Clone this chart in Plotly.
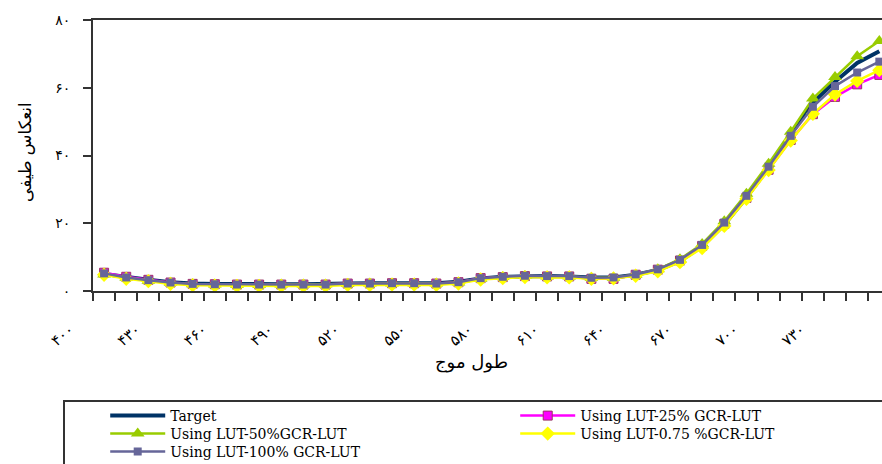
import plotly.graph_objects as go

# Wavelength samples (nm)
wavelengths = list(range(400, 760, 10))

# Spectral reflectance (%) of the target and of the four LUT-based reproductions
target = [5.0, 4.1, 3.3, 2.6, 2.2, 2.1, 2.0, 2.0, 2.0, 2.0, 2.0, 2.2, 2.3, 2.3, 2.3, 2.3,
          2.7, 3.7, 4.2, 4.4, 4.4, 4.3, 4.0, 4.0, 4.8, 6.2, 8.9, 13.2, 19.6, 27.6,
          36.5, 46.2, 55.6, 61.8, 67.3, 70.8]
gcr_25 = [5.4, 4.2, 3.3, 2.5, 2.1, 2.0, 1.9, 1.9, 1.9, 1.9, 1.9, 2.2, 2.2, 2.3, 2.3, 2.2,
          2.6, 3.8, 4.1, 4.4, 4.3, 4.3, 3.6, 3.6, 4.8, 6.3, 9.0, 13.3, 19.8, 27.5,
          35.8, 44.6, 52.2, 57.3, 61.0, 63.8]
gcr_50 = [4.9, 3.9, 3.0, 2.4, 2.0, 1.9, 1.8, 1.8, 1.9, 1.9, 1.9, 2.1, 2.2, 2.2, 2.2, 2.2,
          2.5, 3.6, 4.1, 4.4, 4.3, 4.3, 3.9, 3.9, 4.8, 6.4, 9.4, 13.9, 20.6, 28.7,
          37.6, 47.0, 56.8, 63.2, 69.3, 73.8]
gcr_075 = [4.8, 3.6, 2.9, 2.1, 1.7, 1.6, 1.5, 1.5, 1.5, 1.5, 1.5, 1.8, 1.8, 1.9, 1.9, 1.8,
           2.2, 3.4, 3.8, 4.1, 4.0, 4.0, 3.6, 3.7, 4.5, 5.8, 8.5, 12.7, 19.2, 27.2,
           35.7, 44.4, 52.3, 58.0, 62.0, 65.2]
gcr_100 = [5.2, 4.0, 3.2, 2.5, 2.1, 2.0, 1.9, 1.9, 1.9, 1.9, 1.9, 2.2, 2.2, 2.3, 2.3, 2.2,
           2.6, 3.8, 4.2, 4.5, 4.4, 4.4, 3.9, 4.0, 4.9, 6.4, 9.2, 13.6, 20.2, 28.1,
           36.7, 45.8, 54.4, 60.5, 64.5, 67.7]

series_names = ["Target", "Using LUT-25% GCR-LUT", "Using LUT-50%GCR-LUT",
                "Using LUT-0.75 %GCR-LUT", "Using LUT-100% GCR-LUT"]

# Persian tick labels
x_tick_vals = [400, 430, 460, 490, 520, 550, 580, 610, 640, 670, 700, 730]
x_tick_text = ["۴۰۰", "۴۳۰", "۴۶۰", "۴۹۰", "۵۲۰", "۵۵۰", "۵۸۰", "۶۱۰", "۶۴۰", "۶۷۰", "۷۰۰", "۷۳۰"]
y_tick_vals = [0, 20, 40, 60, 80]
y_tick_text = ["۰", "۲۰", "۴۰", "۶۰", "۸۰"]

x_title = "طول موج"
y_title = "انعکاس طیفی"

AXIS = "#333333"
FA_FONT = "DejaVu Sans"
LEG_FONT = dict(family="DejaVu Serif", size=14, color="black")

fig = go.Figure()

fig.add_trace(go.Scatter(
    x=wavelengths, y=target, name=series_names[0], mode="lines",
    line=dict(color="#003366", width=4), legend="legend"))
fig.add_trace(go.Scatter(
    x=wavelengths, y=gcr_25, name=series_names[1], mode="lines+markers",
    line=dict(color="#FF00FF", width=2.5),
    marker=dict(symbol="square", size=9, color="#FF00FF",
                line=dict(color="#993366", width=1)),
    legend="legend"))
fig.add_trace(go.Scatter(
    x=wavelengths, y=gcr_50, name=series_names[2], mode="lines+markers",
    line=dict(color="#99CC00", width=2.5),
    marker=dict(symbol="triangle-up", size=12, color="#99CC00"),
    legend="legend2"))
fig.add_trace(go.Scatter(
    x=wavelengths, y=gcr_075, name=series_names[3], mode="lines+markers",
    line=dict(color="#FFFF00", width=2.5),
    marker=dict(symbol="diamond", size=11, color="#FFFF00"),
    legend="legend2"))
fig.add_trace(go.Scatter(
    x=wavelengths, y=gcr_100, name=series_names[4], mode="lines+markers",
    line=dict(color="#666699", width=2.5),
    marker=dict(symbol="square", size=8, color="#666699"),
    legend="legend3"))

W, H = 882, 464
L, R, T, B = 93, 0, 20, 173
pw, ph = W - L - R, H - T - B


def px(xp):
    return (xp - L) / pw


def py(yp):
    return (H - B - yp) / ph


legend_common = dict(
    orientation="h", xref="paper", x=-0.001, xanchor="left", yanchor="middle",
    bgcolor="rgba(0,0,0,0)", bordercolor="rgba(0,0,0,0)", borderwidth=13,
    font=LEG_FONT, itemwidth=55, entrywidth=340, entrywidthmode="pixels",
    itemclick=False, itemdoubleclick=False,
)

fig.update_layout(
    width=W, height=H,
    margin=dict(l=L, r=R, t=T, b=B, autoexpand=False),
    paper_bgcolor="white", plot_bgcolor="white",
    showlegend=True,
    legend=dict(legend_common, y=py(416)),
    legend2=dict(legend_common, y=py(434)),
    legend3=dict(legend_common, y=py(452)),
    xaxis=dict(
        range=[395, 395 + pw / 2.215],
        showline=True, linecolor=AXIS, linewidth=2, mirror=True,
        showgrid=False, zeroline=False,
        tickmode="array", tickvals=x_tick_vals, ticktext=x_tick_text,
        ticks="", tickangle=-40, ticklabelshift=-34, ticklabelstandoff=22,
        tickfont=dict(family=FA_FONT, size=15, color="black"),
        minor=dict(ticks="outside", tick0=395, dtick=10, ticklen=8,
                   tickwidth=1.5, tickcolor=AXIS, showgrid=False),
    ),
    yaxis=dict(
        range=[0, 80],
        showline=True, linecolor=AXIS, linewidth=2, mirror=False,
        showgrid=False, zeroline=False,
        tickmode="array", tickvals=y_tick_vals, ticktext=y_tick_text,
        ticks="outside", ticklen=8, tickwidth=1.5, tickcolor=AXIS,
        ticklabelstandoff=10,
        tickfont=dict(family=FA_FONT, size=14, color="black"),
    ),
    annotations=[
        dict(text=y_title, xref="paper", yref="paper", x=px(25), y=py(152),
             textangle=-90, showarrow=False, xanchor="center", yanchor="middle",
             font=dict(family=FA_FONT, size=17, color="black")),
        dict(text=x_title, xref="paper", yref="paper", x=px(471), y=py(362),
             showarrow=False, xanchor="center", yanchor="middle",
             font=dict(family=FA_FONT, size=18, color="black")),
    ],
    shapes=[
        # legend frame
        dict(type="rect", xref="paper", yref="paper",
             x0=px(64), x1=px(900), y0=py(401), y1=py(480),
             line=dict(color=AXIS, width=2), fillcolor="rgba(0,0,0,0)", layer="below"),
    ],
)

fig.write_html("out.html")
